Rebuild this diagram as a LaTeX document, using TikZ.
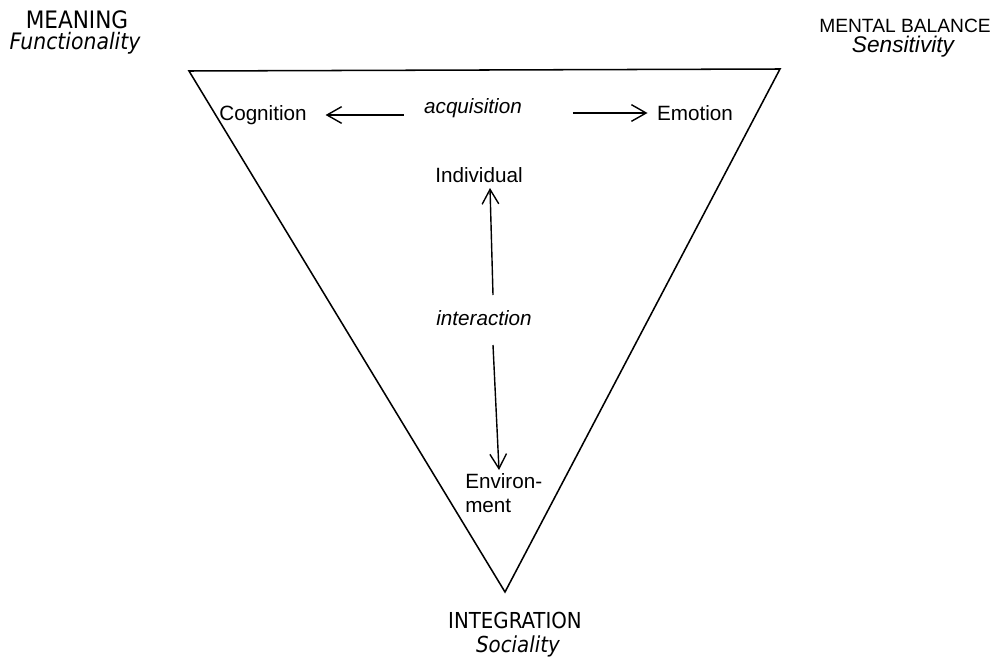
\documentclass[tikz,border=0pt]{standalone}
\usepackage{fontspec}
\setmainfont{Liberation Sans}
\newfontfamily\tahfont{DejaVu Sans Condensed}
\usetikzlibrary{arrows.meta,positioning}

\tikzset{
  inner/.style={inner sep=0pt,font=\fontsize{15.5}{18}\selectfont},
  corner/.style={inner sep=0pt,anchor=base,font=\tahfont\fontsize{18}{21}\selectfont},
  barb/.style={-{Straight Barb[length=11pt,width=12.5pt,line width=1.05pt]},line width=1.05pt}
}

\begin{document}
\begin{tikzpicture}[x=0.75pt,y=-0.75pt]

	%Fix the page size
	\useasboundingbox (0,0) rectangle (992,660);

	%Corners of the triangle
	\coordinate (tl) at (189,71);
	\coordinate (tr) at (780,69);
	\coordinate (bt) at (505,592);
	\draw[line width=1.15pt,line join=miter] (tl) -- (tr) -- (bt) -- cycle;

	%Labels outside the triangle
	\node[corner] (mean) at (77,29) {MEANING};
	\node[corner,font=\tahfont\fontsize{17}{20}\selectfont\itshape] (func) at (75,50) {Functionality};
	\node[corner,font=\fontsize{14.4}{17}\selectfont] (bal) at (905,33) {MENTAL BALANCE};
	\node[corner,font=\fontsize{17}{20}\selectfont\itshape] (sens) at (903,53) {Sensitivity};
	\node[corner,font=\tahfont\fontsize{16.5}{20}\selectfont] (integ) at (515,628) {INTEGRATION};
	\node[corner,font=\tahfont\fontsize{16.5}{20}\selectfont\itshape] (soc) at (518,652) {Sociality};

	%Labels inside the triangle
	\node[inner] (cog) at (263,115) {Cognition};
	\node[inner] (acq) at (473,108) {\textit{acquisition}};
	\node[inner] (emo) at (695,113) {Emotion};
	\node[inner] (ind) at (479,175) {Individual};
	\node[inner] (inter) at (484,318) {\textit{interaction}};
	\node[inner,align=left,anchor=north west] (env) at (465,473) {Environ-\\ment};

	%Free ends of the vertical arrows
	\coordinate (up1) at (493,295);
	\coordinate (up2) at (490,188);
	\coordinate (dn1) at (493,345);
	\coordinate (dn2) at (499,470);

	\draw[barb] ([xshift=-15pt]acq.west |- cog.east) -- ([xshift=14pt]cog.east);
	\draw[barb] ([xshift=38pt]acq.east |- emo.west) -- ([xshift=-7pt]emo.west);
	\draw[barb] (up1) -- (up2);
	\draw[barb] (dn1) -- (dn2);

\end{tikzpicture}
\end{document}
